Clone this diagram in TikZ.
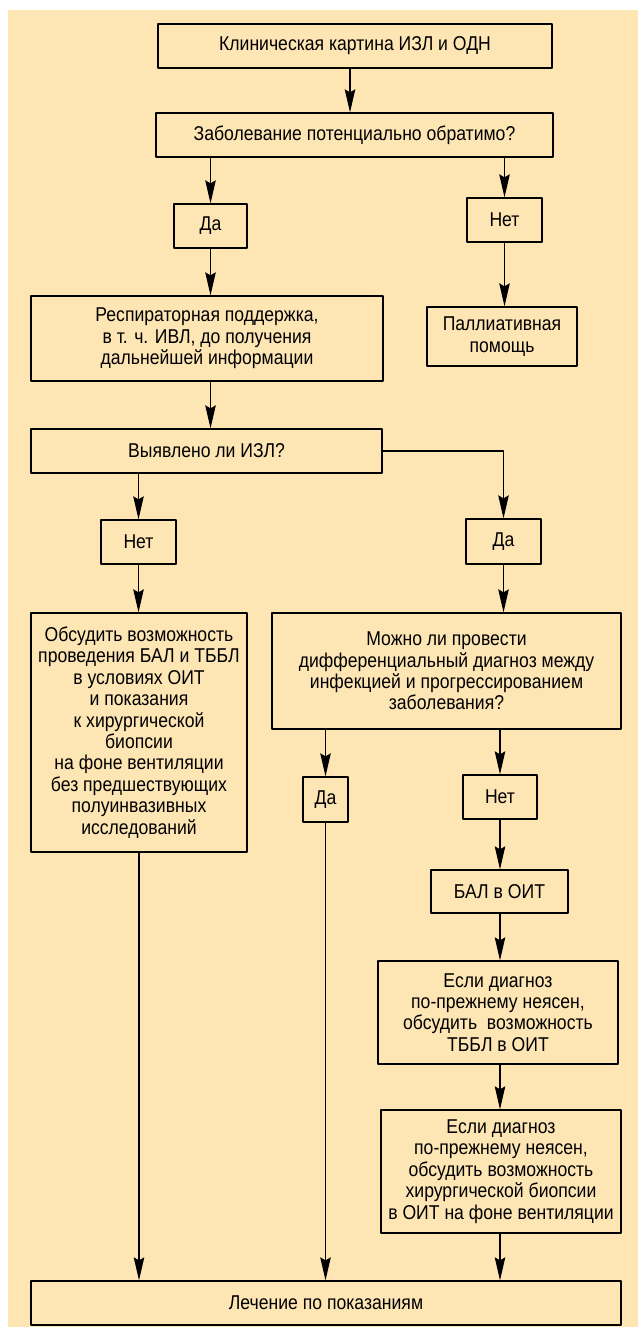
\documentclass[tikz,border=0pt]{standalone}
\usepackage{fontspec}
\setmainfont{Liberation Sans}[FakeStretch=0.88]
\usetikzlibrary{arrows.meta}
\definecolor{peach}{RGB}{253,229,180}

\begin{document}
\begin{tikzpicture}[x=1pt,y=-1pt,>={Stealth[length=23pt,width=10.5pt,inset=3pt]}, font=\fontsize{20}{21.4}\selectfont, line join=round,
        box/.style={draw, line width=1.3pt, align=center, inner sep=0pt},
        link/.style={->, line width=1.1pt}]
        \def\W{638} \def\H{1327}
        \fill[white] (0,0) rectangle (\W,\H);
        \fill[peach] (8,10) rectangle (\W,\H);
        \node[box, minimum width=394pt, minimum height=44pt] (clin) at (355,46) {Клиническая картина ИЗЛ и ОДН};
        \node[box, minimum width=397pt, minimum height=44pt] (rev) at (354.5,135) {Заболевание потенциально обратимо?};
        \node[box, minimum width=73pt, minimum height=44pt] (da1) at (210.5,226) {Да};
        \node[box, minimum width=75pt, minimum height=44pt] (net1) at (504.5,220) {Нет};
        \node[box, minimum width=352pt, minimum height=85pt] (resp) at (207,338.5) {Респираторная поддержка,\\в т. ч. ИВЛ, до получения\\дальнейшей информации};
        \node[box, minimum width=150pt, minimum height=59pt] (pall) at (502,336.5) {Паллиативная\\помощь};
        \node[box, minimum width=351pt, minimum height=44pt] (ild) at (206.5,451) {Выявлено ли ИЗЛ?};
        \node[box, minimum width=75pt, minimum height=44pt] (net2) at (138.5,542) {Нет};
        \node[box, minimum width=75pt, minimum height=45pt] (da2) at (503.5,541.5) {Да};
        \node[box, minimum width=216pt, minimum height=239pt] (bal1) at (139,732.5) {Обсудить возможность\\проведения БАЛ и ТББЛ\\в условиях ОИТ\\и показания\\к хирургической\\биопсии\\на фоне вентиляции\\без предшествующих\\полуинвазивных\\исследований};
        \node[box, minimum width=349pt, minimum height=116pt] (diff) at (446.5,671) {Можно ли провести\\дифференциальный диагноз между\\инфекцией и прогрессированием\\заболевания?};
        \node[box, minimum width=45pt, minimum height=45pt] (da3) at (325.5,799.5) {Да};
        \node[box, minimum width=74pt, minimum height=44pt] (net3) at (500,797) {Нет};
        \node[box, minimum width=137pt, minimum height=43pt] (bal2) at (499.5,891.5) {БАЛ в ОИТ};
        \node[box, minimum width=240pt, minimum height=103pt] (tbbl) at (498,1012.5) {Если диагноз\\по-прежнему неясен,\\обсудить~~возможность\\ТББЛ в ОИТ};
        \node[box, minimum width=240pt, minimum height=123pt] (surg) at (501,1171.5) {Если диагноз\\по-прежнему неясен,\\обсудить возможность\\хирургической биопсии\\в ОИТ на фоне вентиляции};
        \node[box, minimum width=590pt, minimum height=44pt] (treat) at (326,1303) {Лечение по показаниям};
        \draw[link] ([xshift=-5pt]clin.south) -- ([xshift=-4.5pt]rev.north);
        \draw[link] (rev.south -| da1) -- (da1.north);
        \draw[link] (rev.south -| net1) -- (net1.north);
        \draw[link] (da1.south) -- (resp.north -| da1);
        \draw[link] (net1.south) -- (pall.north -| net1);
        \draw[link] (resp.south -| da1) -- (ild.north -| da1);
        \draw[link] (ild.south -| net2) -- (net2.north);
        \draw[link] (ild.east) -- (ild.east -| da2) -- (da2.north);
        \draw[link] (net2.south) -- (bal1.north -| net2);
        \draw[link] (da2.south) -- (diff.north -| da2);
        \draw[link] (diff.south -| da3) -- (da3.north);
        \draw[link] (diff.south -| net3) -- (net3.north);
        \draw[link] (net3.south) -- (bal2.north -| net3);
        \draw[link] (bal2.south -| net3) -- (tbbl.north -| net3);
        \draw[link] (tbbl.south -| net3) -- (surg.north -| net3);
        \draw[link] (bal1.south) -- (treat.north -| bal1);
        \draw[link] (da3.south) -- (treat.north -| da3);
        \draw[link] (surg.south -| net3) -- (treat.north -| net3);
\end{tikzpicture}
\end{document}
